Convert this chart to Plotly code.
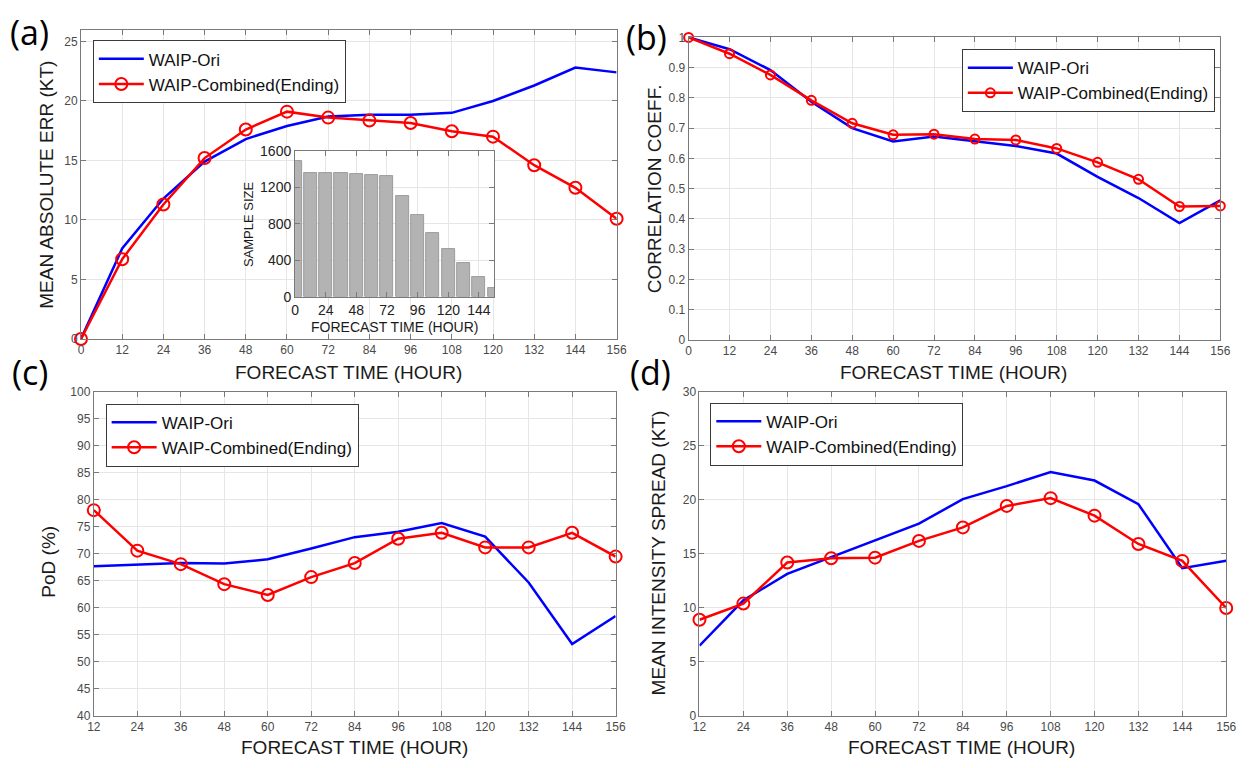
import plotly.graph_objects as go

W, H = 1252, 768

# ---------------- data ----------------
hours_a = [0, 12, 24, 36, 48, 60, 72, 84, 96, 108, 120, 132, 144, 156]
hours_c = [12, 24, 36, 48, 60, 72, 84, 96, 108, 120, 132, 144, 156]

mae_ori = [0, 7.6, 11.8, 14.9, 16.8, 17.9, 18.7, 18.85, 18.85, 19.0, 20.0, 21.3, 22.8, 22.4]
mae_comb = [0, 6.7, 11.3, 15.2, 17.6, 19.1, 18.6, 18.35, 18.15, 17.45, 17.0, 14.6, 12.7, 10.1]

sample_hours = [0, 12, 24, 36, 48, 60, 72, 84, 96, 108, 120, 132, 144, 156]
sample_size = [1490, 1362, 1362, 1358, 1351, 1340, 1326, 1106, 897, 703, 522, 371, 216, 94]

corr_ori = [1.0, 0.961, 0.892, 0.787, 0.700, 0.656, 0.672, 0.657, 0.641, 0.616, 0.539, 0.469, 0.386, 0.461]
corr_comb = [1.0, 0.946, 0.876, 0.792, 0.716, 0.678, 0.680, 0.664, 0.661, 0.633, 0.587, 0.531, 0.441, 0.443]

pod_ori = [67.7, 68.0, 68.3, 68.2, 69.0, 71.0, 73.1, 74.1, 75.7, 73.2, 64.7, 53.3, 58.5]
pod_comb = [78.1, 70.6, 68.1, 64.4, 62.4, 65.7, 68.3, 72.8, 73.9, 71.2, 71.2, 73.9, 69.5]

spread_ori = [6.5, 10.7, 13.15, 14.7, 16.3, 17.8, 20.07, 21.27, 22.57, 21.79, 19.6, 13.67, 14.37]
spread_comb = [8.9, 10.4, 14.2, 14.6, 14.65, 16.2, 17.45, 19.44, 20.16, 18.54, 15.92, 14.35, 9.99]

name_ori = "WAIP-Ori"
name_comb = "WAIP-Combined(Ending)"

# ---------------- layout helpers ----------------
def px_dom_x(a, b):
    return [a / W, b / W]

def px_dom_y(top, bottom):
    return [1 - bottom / H, 1 - top / H]

dom = {
    "a": (px_dom_x(75, 618), px_dom_y(22, 338)),
    "b": (px_dom_x(691, 1230), px_dom_y(30, 339)),
    "c": (px_dom_x(88, 617), px_dom_y(392, 723)),
    "d": (px_dom_x(702, 1236), px_dom_y(392, 723)),
    "i": (px_dom_x(292, 494), px_dom_y(146, 295)),
}

FONT = "Liberation Sans, Arial, sans-serif"
BLUE = "#0000ff"
RED = "#ff0000"
GRID = "#e6e6e6"
FRAME = "#7a7a7a"
TICKC = "#4a4a4a"

def axis(domain, rng, tickvals, ticktext=None, anchor=None, fs=12):
    d = dict(
        domain=domain, range=rng, tickvals=tickvals, showgrid=True, gridcolor=GRID,
        gridwidth=1, zeroline=False, showline=True, linecolor=FRAME, linewidth=1,
        mirror="ticks", ticks="inside", ticklen=5, tickcolor=FRAME,
        tickfont=dict(family=FONT, size=fs, color=TICKC), anchor=anchor,
    )
    if ticktext is not None:
        d["ticktext"] = ticktext
    return d

fig = go.Figure()

def add_pair(xs, y_ori, y_comb, xa, ya, leg, msize=12):
    fig.add_trace(go.Scatter(x=xs, y=y_ori, mode="lines", name=name_ori,
                             line=dict(color=BLUE, width=2.5), xaxis=xa, yaxis=ya,
                             legend=leg))
    fig.add_trace(go.Scatter(x=xs, y=y_comb, mode="lines+markers", name=name_comb,
                             line=dict(color=RED, width=2.5),
                             marker=dict(symbol="circle-open", size=msize,
                                         color=RED, line=dict(width=2, color=RED)),
                             xaxis=xa, yaxis=ya, legend=leg, cliponaxis=False))

add_pair(hours_a, mae_ori, mae_comb, "x", "y", "legend")
add_pair(hours_a, corr_ori, corr_comb, "x2", "y2", "legend2", msize=9)
add_pair(hours_c, pod_ori, pod_comb, "x3", "y3", "legend3")
add_pair(hours_c, spread_ori, spread_comb, "x4", "y4", "legend4")

# inset bar chart
fig.add_trace(go.Bar(x=sample_hours, y=sample_size, width=10.2,
                     marker=dict(color="#b3b3b3", line=dict(color="#8f8f8f", width=0.8)),
                     xaxis="x5", yaxis="y5", showlegend=False))

xt12 = list(range(0, 157, 12))
xt12c = list(range(12, 157, 12))

A_XR = [0, 156]
A_YR = [0, 26]

layout = dict(
    width=W, height=H, autosize=False,
    margin=dict(l=0, r=0, t=0, b=0),
    paper_bgcolor="white", plot_bgcolor="white",
    font=dict(family=FONT, color="#1a1a1a"),
    showlegend=True,
    xaxis=axis(dom["a"][0], A_XR, xt12, anchor="y"),
    yaxis=axis(dom["a"][1], A_YR, list(range(0, 26, 5)), anchor="x"),
    xaxis2=axis(dom["b"][0], [0, 156], xt12, anchor="y2"),
    yaxis2=axis(dom["b"][1], [0, 1], [i / 10 for i in range(11)],
                ["0"] + [f"0.{i}" for i in range(1, 10)] + ["1"], anchor="x2"),
    xaxis3=axis(dom["c"][0], [12, 156], xt12c, anchor="y3"),
    yaxis3=axis(dom["c"][1], [40, 100], list(range(40, 101, 5)), anchor="x3"),
    xaxis4=axis(dom["d"][0], [12, 156], xt12c, anchor="y4"),
    yaxis4=axis(dom["d"][1], [0, 30], list(range(0, 31, 5)), anchor="x4"),
    xaxis5=axis(dom["i"][0], [0, 156], list(range(0, 145, 24)), anchor="y5", fs=14),
    yaxis5=axis(dom["i"][1], [0, 1600], list(range(0, 1601, 400)), anchor="x5", fs=14),
    bargap=0,
)
layout["xaxis5"]["tickfont"]["color"] = "#222222"
layout["yaxis5"]["tickfont"]["color"] = "#222222"


def legend(xp, yp):
    return dict(x=xp / W, y=1 - yp / H, xanchor="left", yanchor="top",
                bgcolor="white", bordercolor="#3a3a3a", borderwidth=1,
                font=dict(family=FONT, size=17, color="#111111"),
                tracegroupgap=0, itemwidth=45)

layout["legend"] = legend(87, 33)
layout["legend2"] = legend(968, 42)
layout["legend3"] = legend(100, 404)
layout["legend4"] = legend(713, 403)

fig.update_layout(**layout)

# white cover behind inset (hides main grid lines of panel a in the inset region)
ax0, ax1 = dom["a"][0]
ay0, ay1 = dom["a"][1]
ix0, ix1 = dom["i"][0]
iy0, iy1 = dom["i"][1]
def to_ax(v, d0, d1, r):
    return r[0] + (v - d0) / (d1 - d0) * (r[1] - r[0])
fig.add_shape(type="rect", xref="x", yref="y", layer="below",
              x0=to_ax(ix0, ax0, ax1, A_XR), x1=to_ax(ix1, ax0, ax1, A_XR),
              y0=to_ax(iy0, ay0, ay1, A_YR), y1=to_ax(iy1, ay0, ay1, A_YR),
              fillcolor="white", line=dict(width=0))

# ---------------- annotations (titles & panel labels) ----------------
def ann(text, xp, yp, size, angle=0, family=FONT, color="#1a1a1a"):
    fig.add_annotation(text=text, x=xp / W, y=1 - yp / H, xref="paper", yref="paper",
                       showarrow=False, textangle=angle, xanchor="center", yanchor="middle",
                       font=dict(family=family, size=size, color=color))

TS = 19
ann("FORECAST TIME (HOUR)", 346, 372, TS)
ann("MEAN ABSOLUTE ERR (KT)", 40, 180, TS, -90)
ann("FORECAST TIME (HOUR)", 960, 372, TS)
ann("CORRELATION COEFF.", 656, 185, TS, -90)
ann("FORECAST TIME (HOUR)", 352, 755, TS)
ann("PoD (%)", 42, 565, TS, -90)
ann("FORECAST TIME (HOUR)", 968, 755, TS)
ann("MEAN INTENSITY SPREAD (KT)", 660, 557, TS, -90)

# inset titles
ann("FORECAST TIME (HOUR)", 393, 326, 14)
ann("SAMPLE SIZE", 245, 221, 13, -90)

PL = "Open Sans, Noto Sans, sans-serif"
ann("(a)", 23, 24, 34, family=PL, color="#000000")
ann("(b)", 648, 30, 34, family=PL, color="#000000")
ann("(c)", 23, 372, 34, family=PL, color="#000000")
ann("(d)", 652, 372, 34, family=PL, color="#000000")

fig.write_html("out.html", config={"displayModeBar": False},
               post_script="document.body.style.margin='0';")
